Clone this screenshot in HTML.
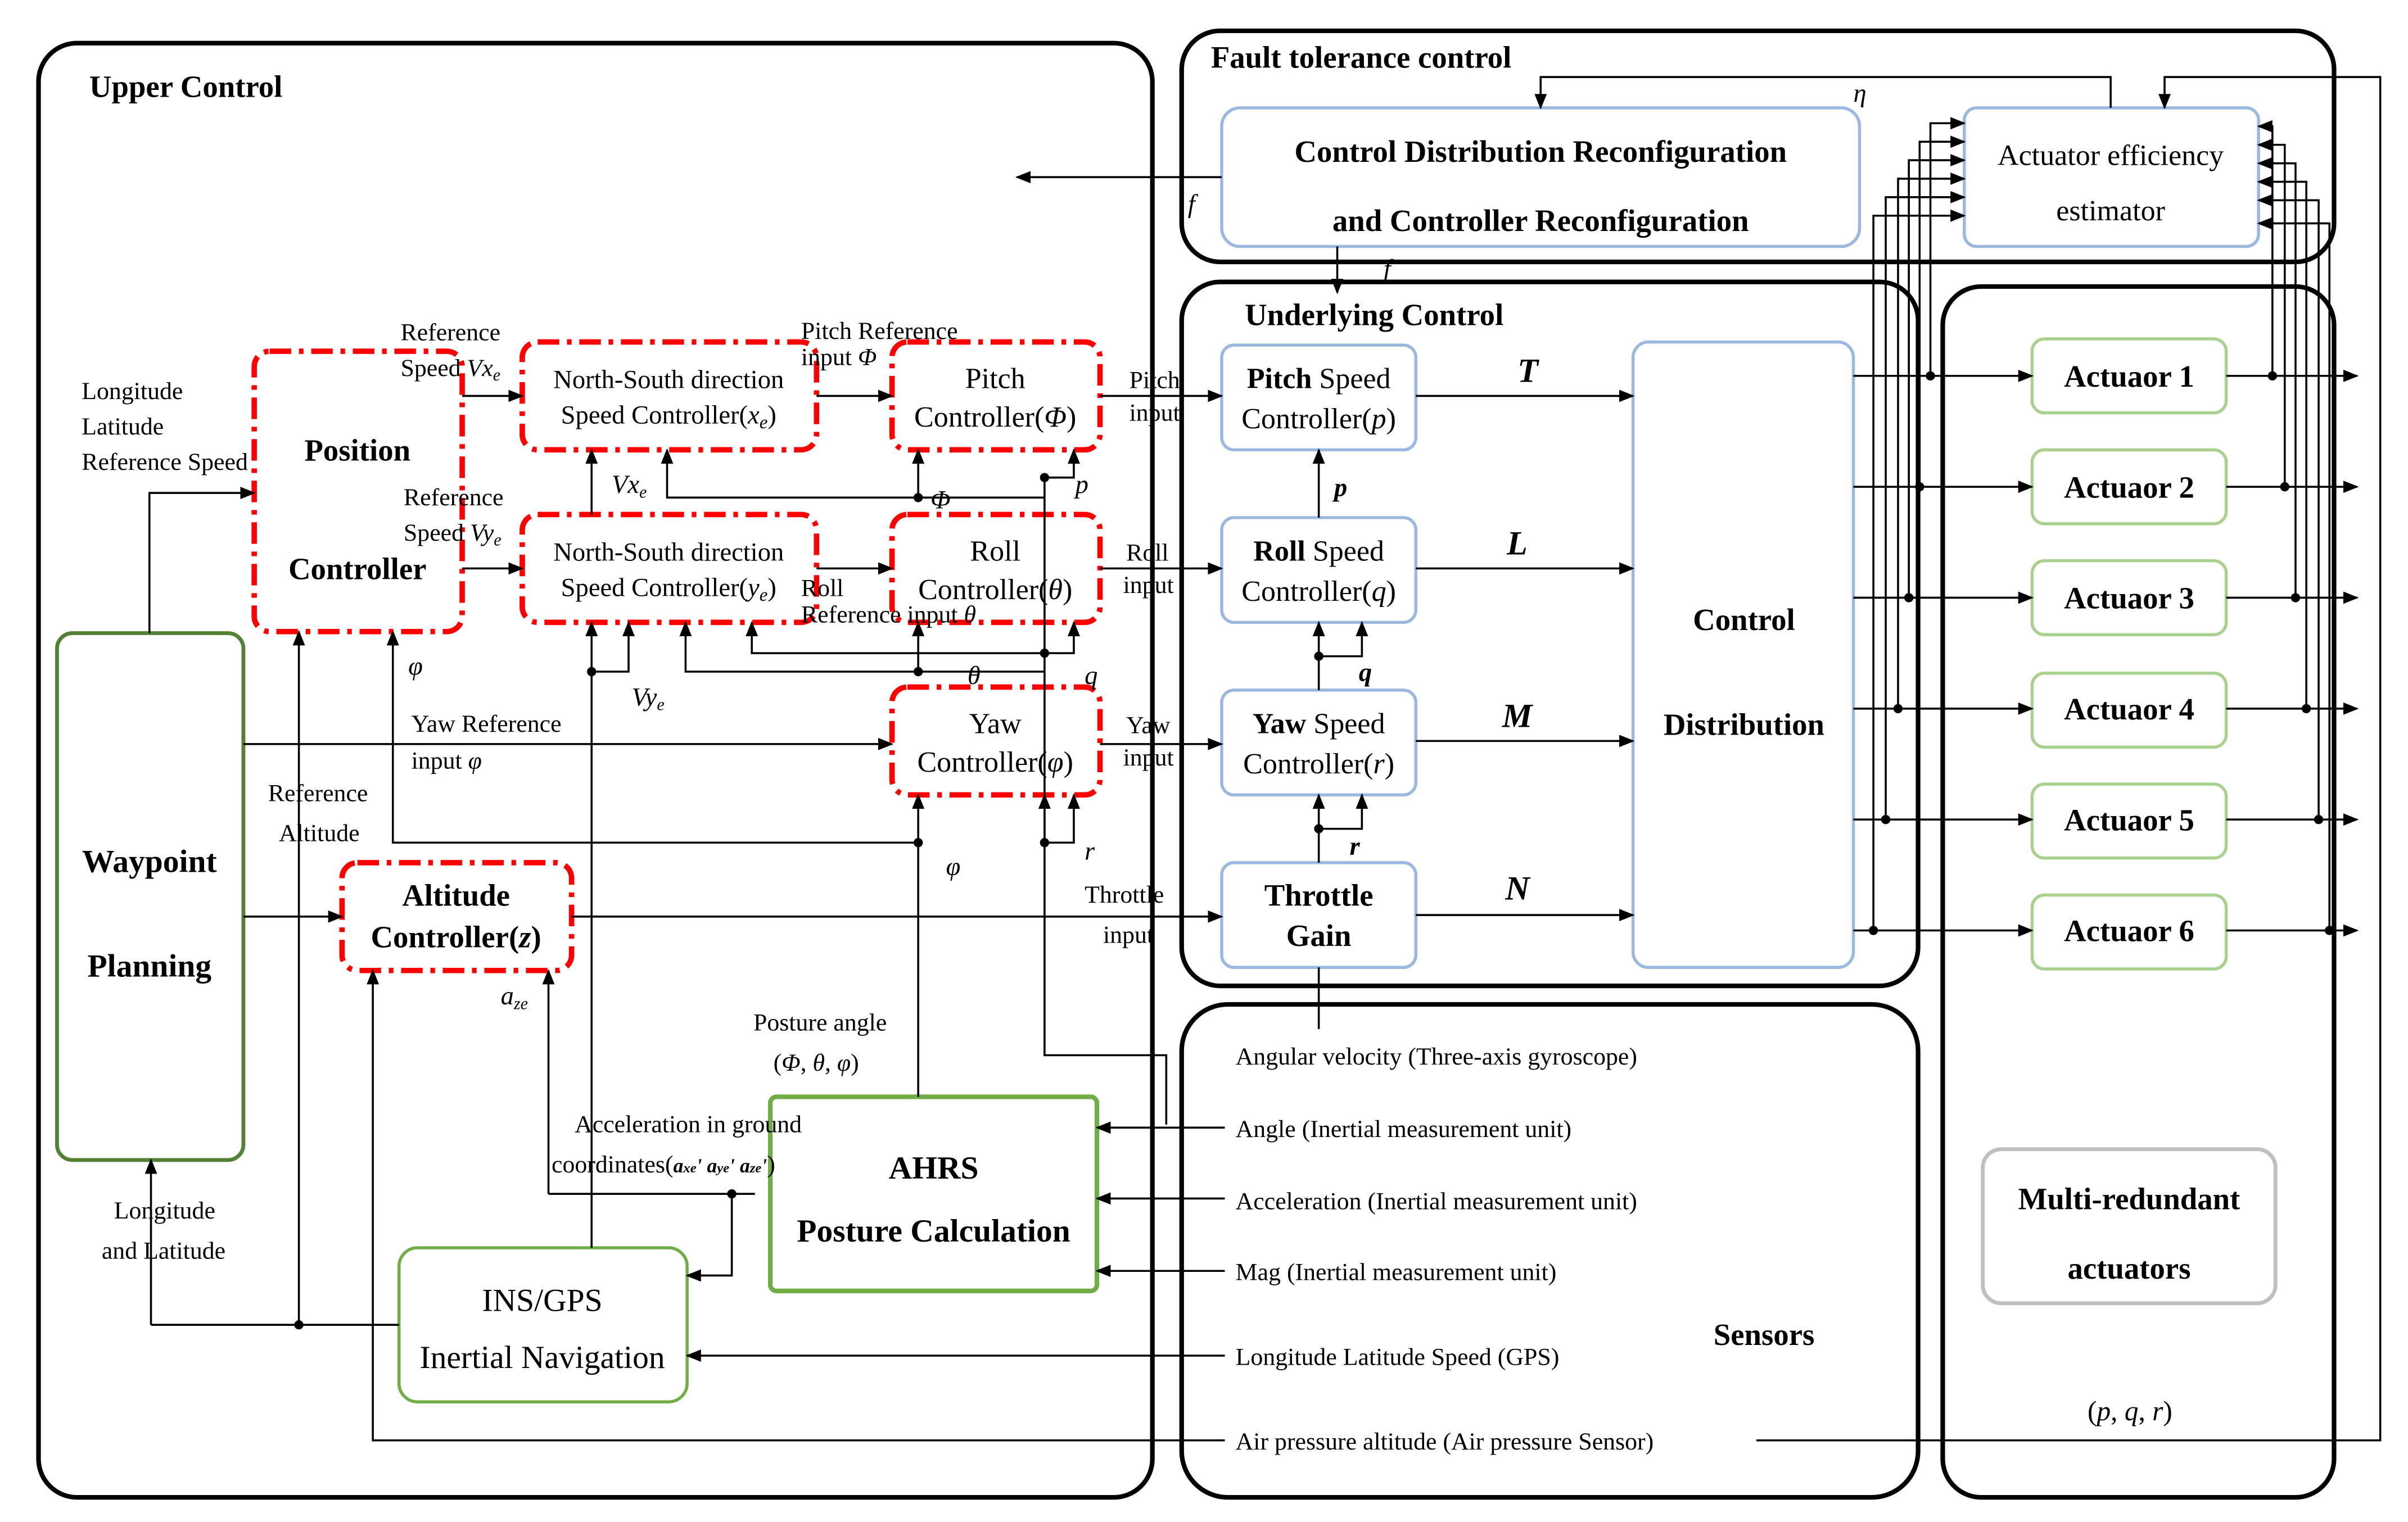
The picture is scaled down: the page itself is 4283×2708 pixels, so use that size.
<!DOCTYPE html>
<html><head><meta charset="utf-8"><style>html,body{margin:0;padding:0;background:#fff}svg{display:block}svg text{font-family:"Liberation Serif","DejaVu Serif",serif}</style></head><body>
<svg width="4283" height="2708" viewBox="0 0 1563 988" preserveAspectRatio="none" xmlns="http://www.w3.org/2000/svg" style="font-family:'Liberation Serif',serif" font-size="17">
<defs><marker id="a" markerWidth="10" markerHeight="8" refX="9" refY="4" orient="auto" markerUnits="userSpaceOnUse"><path d="M0,0 L10,4 L0,8z" fill="#000"/></marker></defs>
<g fill="none" stroke="#000" stroke-width="3">
<rect x="25" y="28" width="723" height="944" rx="25"/>
<rect x="767" y="20" width="748" height="150" rx="25"/>
<rect x="767" y="183" width="478" height="457" rx="25"/>
<rect x="767" y="652" width="478" height="320" rx="30"/>
<rect x="1261" y="186" width="254" height="786" rx="25"/>
</g>
<g fill="none" stroke="#9ab8e0" stroke-width="2">
<rect x="793" y="70" width="414" height="90" rx="12"/>
<rect x="1275" y="70" width="191" height="90" rx="8"/>
<rect x="793" y="224" width="126" height="68" rx="8"/>
<rect x="793" y="336" width="126" height="68" rx="8"/>
<rect x="793" y="448" width="126" height="68" rx="8"/>
<rect x="793" y="560" width="126" height="68" rx="8"/>
<rect x="1060" y="222" width="143" height="406" rx="10"/>
</g>
<g fill="none" stroke="#a9d18e" stroke-width="2">
<rect x="1319" y="220" width="126" height="48" rx="8"/>
<rect x="1319" y="292" width="126" height="48" rx="8"/>
<rect x="1319" y="364" width="126" height="48" rx="8"/>
<rect x="1319" y="437" width="126" height="48" rx="8"/>
<rect x="1319" y="509" width="126" height="48" rx="8"/>
<rect x="1319" y="581" width="126" height="48" rx="8"/>
<rect x="259" y="810" width="187" height="100" rx="12" stroke="#70ad47"/>
</g>
<rect x="37" y="411" width="121" height="342" rx="10" fill="none" stroke="#548235" stroke-width="2.5"/>
<rect x="500" y="712" width="212" height="126" rx="4" fill="none" stroke="#70ad47" stroke-width="3"/>
<rect x="1287" y="746" width="190" height="100" rx="12" fill="none" stroke="#bfbfbf" stroke-width="2.5"/>
<g fill="none" stroke="#f00" stroke-width="3.5" stroke-dasharray="14,5,3,5">
<rect x="165" y="228" width="135" height="182" rx="10"/>
<rect x="339" y="222" width="191" height="70" rx="10"/>
<rect x="579" y="222" width="135" height="70" rx="10"/>
<rect x="339" y="334" width="191" height="70" rx="10"/>
<rect x="579" y="334" width="135" height="70" rx="10"/>
<rect x="579" y="446" width="135" height="70" rx="10"/>
<rect x="222" y="560" width="149" height="70" rx="10"/>
</g>
<g fill="none" stroke="#000" stroke-width="1.3">
<path d="M97,411V320H165" marker-end="url(#a)"/>
<path d="M158,483H579" marker-end="url(#a)"/>
<path d="M158,595H222" marker-end="url(#a)"/>
<path d="M300,257H339" marker-end="url(#a)"/>
<path d="M300,369H339" marker-end="url(#a)"/>
<path d="M530,257H579" marker-end="url(#a)"/>
<path d="M530,369H579" marker-end="url(#a)"/>
<path d="M714,257H793" marker-end="url(#a)"/>
<path d="M714,369H793" marker-end="url(#a)"/>
<path d="M714,483H793" marker-end="url(#a)"/>
<path d="M371,595H793" marker-end="url(#a)"/>
<path d="M384,334V292" marker-end="url(#a)"/>
<path d="M384,810V404" marker-end="url(#a)"/>
<path d="M384,436H408V404" marker-end="url(#a)"/>
<path d="M678,323H433V292" marker-end="url(#a)"/>
<path d="M596,323V292" marker-end="url(#a)"/>
<path d="M678,310H697V292" marker-end="url(#a)"/>
<path d="M678,310V685H757V730"/>
<path d="M678,436H445V404" marker-end="url(#a)"/>
<path d="M596,436V404" marker-end="url(#a)"/>
<path d="M678,424H488V404" marker-end="url(#a)"/>
<path d="M678,424H697V404" marker-end="url(#a)"/>
<path d="M596,712V516" marker-end="url(#a)"/>
<path d="M596,547H255V410" marker-end="url(#a)"/>
<path d="M678,547H697V516" marker-end="url(#a)"/>
<path d="M678,547V516" marker-end="url(#a)"/>
<path d="M194,860V410" marker-end="url(#a)"/>
<path d="M98,860V753" marker-end="url(#a)"/>
<path d="M98,860H259"/>
<path d="M795,935H242V630" marker-end="url(#a)"/>
<path d="M356,775V630" marker-end="url(#a)"/>
<path d="M356,775H490"/>
<path d="M475,775V828H446" marker-end="url(#a)"/>
<path d="M795,732H712" marker-end="url(#a)"/>
<path d="M795,778H712" marker-end="url(#a)"/>
<path d="M795,825H712" marker-end="url(#a)"/>
<path d="M795,880H446" marker-end="url(#a)"/>
<path d="M793,115H660" marker-end="url(#a)"/>
<path d="M868,160V190" marker-end="url(#a)"/>
<path d="M1370,70V50H1000V70" marker-end="url(#a)"/>
<path d="M1140,935H1545V50H1405V70" marker-end="url(#a)"/>
<path d="M919,257H1060" marker-end="url(#a)"/>
<path d="M919,369H1060" marker-end="url(#a)"/>
<path d="M919,481H1060" marker-end="url(#a)"/>
<path d="M919,594H1060" marker-end="url(#a)"/>
<path d="M856,336V292" marker-end="url(#a)"/>
<path d="M856,448V404" marker-end="url(#a)"/>
<path d="M856,426H884V404" marker-end="url(#a)"/>
<path d="M856,560V516" marker-end="url(#a)"/>
<path d="M856,538H884V516" marker-end="url(#a)"/>
<path d="M856,628V668"/>
<path d="M1203,244H1319" marker-end="url(#a)"/>
<path d="M1203,316H1319" marker-end="url(#a)"/>
<path d="M1203,388H1319" marker-end="url(#a)"/>
<path d="M1203,460H1319" marker-end="url(#a)"/>
<path d="M1203,532H1319" marker-end="url(#a)"/>
<path d="M1203,604H1319" marker-end="url(#a)"/>
<path d="M1253,244V80H1275" marker-end="url(#a)"/>
<path d="M1246,316V92H1275" marker-end="url(#a)"/>
<path d="M1239,388V104H1275" marker-end="url(#a)"/>
<path d="M1232,460V116H1275" marker-end="url(#a)"/>
<path d="M1224,532V128H1275" marker-end="url(#a)"/>
<path d="M1216,604V140H1275" marker-end="url(#a)"/>
<path d="M1445,244H1530" marker-end="url(#a)"/>
<path d="M1445,316H1530" marker-end="url(#a)"/>
<path d="M1445,388H1530" marker-end="url(#a)"/>
<path d="M1445,460H1530" marker-end="url(#a)"/>
<path d="M1445,532H1530" marker-end="url(#a)"/>
<path d="M1445,604H1530" marker-end="url(#a)"/>
<path d="M1475,244V82H1466" marker-end="url(#a)"/>
<path d="M1483,316V94H1466" marker-end="url(#a)"/>
<path d="M1490,388V106H1466" marker-end="url(#a)"/>
<path d="M1497,460V118H1466" marker-end="url(#a)"/>
<path d="M1505,532V130H1466" marker-end="url(#a)"/>
<path d="M1512,604V145H1466" marker-end="url(#a)"/>
</g>
<g fill="#000">
<circle cx="596" cy="323" r="3"/><circle cx="678" cy="310" r="3"/><circle cx="596" cy="436" r="3"/><circle cx="678" cy="424" r="3"/><circle cx="596" cy="547" r="3"/><circle cx="678" cy="547" r="3"/><circle cx="384" cy="436" r="3"/><circle cx="194" cy="860" r="3"/><circle cx="475" cy="775" r="3"/><circle cx="856" cy="426" r="3"/><circle cx="856" cy="538" r="3"/>
<circle cx="1253" cy="244" r="3"/><circle cx="1246" cy="316" r="3"/><circle cx="1239" cy="388" r="3"/><circle cx="1232" cy="460" r="3"/><circle cx="1224" cy="532" r="3"/><circle cx="1216" cy="604" r="3"/>
<circle cx="1475" cy="244" r="3"/><circle cx="1483" cy="316" r="3"/><circle cx="1490" cy="388" r="3"/><circle cx="1497" cy="460" r="3"/><circle cx="1505" cy="532" r="3"/><circle cx="1512" cy="604" r="3"/>
</g>
<g font-weight="bold" font-size="20">
<text x="58" y="63">Upper Control</text>
<text x="786" y="44">Fault tolerance control</text>
<text x="808" y="211">Underlying Control</text>
<text x="1000" y="105" text-anchor="middle">Control Distribution Reconfiguration</text>
<text x="1000" y="150" text-anchor="middle">and Controller Reconfiguration</text>
<text x="232" y="299" text-anchor="middle">Position</text>
<text x="232" y="376" text-anchor="middle">Controller</text>
<text x="97" y="566" text-anchor="middle" font-size="21">Waypoint</text>
<text x="97" y="634" text-anchor="middle" font-size="21">Planning</text>
<text x="296" y="588" text-anchor="middle">Altitude</text>
<text x="296" y="615" text-anchor="middle">Controller(<tspan font-style="italic">z</tspan>)</text>
<text x="606" y="765" text-anchor="middle" font-size="21">AHRS</text>
<text x="606" y="806" text-anchor="middle" font-size="21">Posture Calculation</text>
<text x="1132" y="409" text-anchor="middle">Control</text>
<text x="1132" y="477" text-anchor="middle">Distribution</text>
<text x="1382" y="251" text-anchor="middle">Actuaor 1</text>
<text x="1382" y="323" text-anchor="middle">Actuaor 2</text>
<text x="1382" y="395" text-anchor="middle">Actuaor 3</text>
<text x="1382" y="467" text-anchor="middle">Actuaor 4</text>
<text x="1382" y="539" text-anchor="middle">Actuaor 5</text>
<text x="1382" y="611" text-anchor="middle">Actuaor 6</text>
<text x="1382" y="785" text-anchor="middle">Multi-redundant</text>
<text x="1382" y="830" text-anchor="middle">actuators</text>
<text x="1145" y="873" text-anchor="middle">Sensors</text>
<text x="856" y="588" text-anchor="middle">Throttle</text>
<text x="856" y="614" text-anchor="middle">Gain</text>
</g>
<g font-size="19" text-anchor="middle">
<text x="1370" y="107">Actuator efficiency</text>
<text x="1370" y="143">estimator</text>
<text x="856" y="252"><tspan font-weight="bold">Pitch</tspan> Speed</text>
<text x="856" y="278">Controller(<tspan font-style="italic">p</tspan>)</text>
<text x="856" y="364"><tspan font-weight="bold">Roll</tspan> Speed</text>
<text x="856" y="390">Controller(<tspan font-style="italic">q</tspan>)</text>
<text x="856" y="476"><tspan font-weight="bold">Yaw</tspan> Speed</text>
<text x="856" y="502">Controller(<tspan font-style="italic">r</tspan>)</text>
<text x="646" y="252">Pitch</text>
<text x="646" y="277">Controller(<tspan font-style="italic">Φ</tspan>)</text>
<text x="646" y="364">Roll</text>
<text x="646" y="389">Controller(<tspan font-style="italic">θ</tspan>)</text>
<text x="646" y="476">Yaw</text>
<text x="646" y="501">Controller(<tspan font-style="italic">φ</tspan>)</text>
<text x="352" y="851" font-size="21">INS/GPS</text>
<text x="352" y="888" font-size="21">Inertial Navigation</text>
</g>
<g font-size="17" text-anchor="middle">
<text x="434" y="252">North-South direction</text>
<text x="434" y="275">Speed Controller(<tspan font-style="italic">x<tspan font-size="12" dy="3">e</tspan></tspan><tspan dy="-3">)</tspan></text>
<text x="434" y="364">North-South direction</text>
<text x="434" y="387">Speed Controller(<tspan font-style="italic">y<tspan font-size="12" dy="3">e</tspan></tspan><tspan dy="-3">)</tspan></text>
</g>
<g font-size="16">
<text x="53" y="259">Longitude</text>
<text x="53" y="282">Latitude</text>
<text x="53" y="305">Reference Speed</text>
<text x="260" y="221">Reference</text>
<text x="260" y="244">Speed <tspan font-style="italic">Vx<tspan font-size="11" dy="3">e</tspan></tspan></text>
<text x="262" y="328">Reference</text>
<text x="262" y="351">Speed <tspan font-style="italic">Vy<tspan font-size="11" dy="3">e</tspan></tspan></text>
<text x="520" y="220">Pitch Reference</text>
<text x="520" y="237">input <tspan font-style="italic">Φ</tspan></text>
<text x="520" y="387">Roll</text>
<text x="520" y="404">Reference input <tspan font-style="italic">θ</tspan></text>
<text x="267" y="475">Yaw Reference</text>
<text x="267" y="499">input <tspan font-style="italic">φ</tspan></text>
<text x="174" y="520">Reference</text>
<text x="181" y="546">Altitude</text>
<text x="733" y="252">Pitch</text>
<text x="733" y="273">input</text>
<text x="731" y="364">Roll</text>
<text x="729" y="385">input</text>
<text x="731" y="476">Yaw</text>
<text x="729" y="497">input</text>
<text x="704" y="586">Throttle</text>
<text x="716" y="612">input</text>
<text x="489" y="669">Posture angle</text>
<text x="502" y="695">(<tspan font-style="italic">Φ</tspan>, <tspan font-style="italic">θ</tspan>, <tspan font-style="italic">φ</tspan>)</text>
<text x="373" y="735">Acceleration in ground</text>
<text x="358" y="761">coordinates(<tspan font-style="italic" font-weight="bold" font-size="13">a<tspan font-size="9">xe</tspan>' a<tspan font-size="9">ye</tspan>' a<tspan font-size="9">ze</tspan>'</tspan>)</text>
<text x="74" y="791">Longitude</text>
<text x="66" y="817">and Latitude</text>
<text x="802" y="691">Angular velocity (Three-axis gyroscope)</text>
<text x="802" y="738">Angle (Inertial measurement unit)</text>
<text x="802" y="785">Acceleration (Inertial measurement unit)</text>
<text x="802" y="831">Mag (Inertial measurement unit)</text>
<text x="802" y="886">Longitude Latitude Speed (GPS)</text>
<text x="802" y="941">Air pressure altitude (Air pressure Sensor)</text>
<text x="1355" y="922" font-size="18">(<tspan font-style="italic">p</tspan>, <tspan font-style="italic">q</tspan>, <tspan font-style="italic">r</tspan>)</text>
</g>
<g font-style="italic" font-size="17">
<text x="397" y="320">Vx<tspan font-size="11" dy="3">e</tspan></text>
<text x="410" y="458">Vy<tspan font-size="11" dy="3">e</tspan></text>
<text x="604" y="330">Φ</text><text x="698" y="320">p</text>
<text x="628" y="444">θ</text><text x="704" y="444">q</text>
<text x="265" y="438">φ</text><text x="614" y="568">φ</text><text x="704" y="558">r</text>
<text x="325" y="652">a<tspan font-size="11" dy="3">ze</tspan></text>
<text x="771" y="138">f</text><text x="898" y="180">f</text><text x="1203" y="66">η</text>
<text x="866" y="322" font-weight="bold">p</text><text x="882" y="442" font-weight="bold">q</text><text x="876" y="555" font-weight="bold">r</text>
<text x="985" y="248" font-weight="bold" font-size="22">T</text>
<text x="978" y="360" font-weight="bold" font-size="22">L</text>
<text x="975" y="472" font-weight="bold" font-size="22">M</text>
<text x="977" y="584" font-weight="bold" font-size="22">N</text>
</g>
</svg>
</body></html>
